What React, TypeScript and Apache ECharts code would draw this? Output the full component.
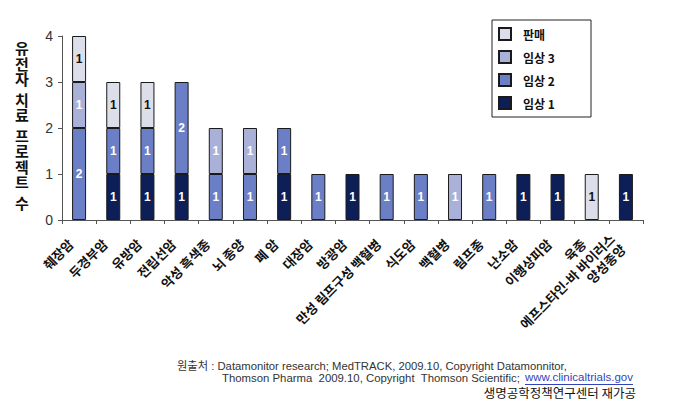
import React, { useEffect, useRef } from "react";
import * as echarts from "echarts";

const categories = [
  "췌장암", "두경부암", "유방암", "전립선암", "악성 흑색종", "뇌 종양", "폐 암",
  "대장암", "방광암", "만성 림프구성 백혈병", "식도암", "백혈병", "림프종",
  "난소암", "이행상피암", "육종", "에프스타인-바 바이러스\n양성종양",
];
const phase1 = [0, 1, 1, 1, 0, 0, 1, 0, 1, 0, 0, 0, 0, 1, 1, 0, 1];
const phase2 = [2, 1, 1, 2, 1, 1, 1, 1, 0, 1, 1, 0, 1, 0, 0, 0, 0];
const phase3 = [1, 0, 0, 0, 1, 1, 0, 0, 0, 0, 0, 1, 0, 0, 0, 0, 0];
const market = [1, 1, 1, 0, 0, 0, 0, 0, 0, 0, 0, 0, 0, 0, 0, 1, 0];
const yTicks = [0, 1, 2, 3, 4];
const yTitleWords = ["유전자", "치료", "프로젝트", "수"];
const sourceLine1 = "원출처 : Datamonitor research; MedTRACK, 2009.10, Copyright Datamonnitor,";
const sourceLine2 = "Thomson Pharma  2009.10, Copyright  Thomson Scientific;";
const sourceLink = "www.clinicaltrials.gov";
const sourceLine3 = "생명공학정책연구센터 재가공";

const KR = "'Noto Sans CJK KR', 'Noto Sans', sans-serif";
const LAT = "'Liberation Sans', Arial, 'Noto Sans CJK KR', sans-serif";

function measure(text: string, font: string): number {
  const c = document.createElement("canvas").getContext("2d");
  if (!c) return text.length * 5;
  c.font = font;
  return c.measureText(text).width;
}

export default function App() {
  const ref = useRef<HTMLDivElement>(null);
  useEffect(() => {
    if (!ref.current) return;
    const chart = echarts.init(ref.current, undefined, { renderer: "svg" });
    const mk = (name: string, data: number[], color: string, labelColor: string) => ({
      name,
      type: "bar",
      stack: "total",
      barWidth: 14,
      data: data.map((v) => (v === 0 ? null : v)),
      itemStyle: { color, borderColor: "#1a1a1a", borderWidth: 1 },
      label: {
        show: true,
        position: "inside",
        color: labelColor,
        fontWeight: "bold",
        fontSize: 12,
        fontFamily: "'Liberation Sans', Arial, sans-serif",
      },
      emphasis: { disabled: true },
    });

    const titleLines: string[] = [];
    yTitleWords.forEach((w, wi) => {
      if (wi > 0) titleLines.push("{g|\u00a0}");
      for (const ch of w) titleLines.push(ch);
    });

    const linkFont = `11.5px ${LAT}`;
    const linkW = measure(sourceLink, linkFont);
    const linkRight = 633;
    const linkLeft = linkRight - linkW;

    // fit source lines to the reference's widths
    const l1w = measure(sourceLine1, `11px ${LAT}`);
    const l1size = (11 * (567 - 177)) / l1w;
    const l2w = measure(sourceLine2, `11px ${LAT}`);
    const l2size = (11 * (linkLeft - 5 - 222)) / l2w;

    chart.setOption({
      animation: false,
      grid: { left: 62, top: 36, width: 581, height: 184, containLabel: false },
      legend: {
        orient: "vertical",
        left: 492,
        top: 21,
        padding: [6, 6, 6, 6],
        itemWidth: 12,
        itemHeight: 12,
        itemGap: 9,
        icon: "rect",
        data: ["판매", "임상 3", "임상 2", "임상 1"],
        textStyle: { fontFamily: KR, fontWeight: "bold", fontSize: 12, color: "#111", padding: [0, 0, 0, 7] },
        selectedMode: false,
      },
      xAxis: {
        type: "category",
        data: categories,
        axisLine: { lineStyle: { color: "#555", width: 1 } },
        axisTick: { show: true, interval: 0, length: 4, lineStyle: { color: "#555" } },
        axisLabel: {
          interval: 0,
          rotate: 45,
          margin: 13,
          padding: [0, 12, 0, 0],
          fontFamily: KR,
          fontWeight: "bold",
          fontSize: 13,
          color: "#111",
          lineHeight: 15,
        },
      },
      yAxis: {
        type: "value",
        min: 0,
        max: 4,
        interval: 1,
        splitLine: { show: false },
        axisLine: { show: true, lineStyle: { color: "#555" } },
        axisTick: { show: true, length: 4, lineStyle: { color: "#555" } },
        axisLabel: {
          fontFamily: "'Liberation Sans', Arial, sans-serif",
          fontSize: 14,
          color: "#333",
          margin: 9,
          formatter: (v: number) => (yTicks.includes(v) ? String(v) : ""),
        },
      },
      series: [
        mk("임상 1", phase1, "#0d1f56", "#ffffff"),
        mk("임상 2", phase2, "#6b7fc6", "#ffffff"),
        mk("임상 3", phase3, "#a9b1d8", "#ffffff"),
        mk("판매", market, "#dcdfe9", "#111111"),
      ],
      graphic: [
        {
          type: "rect",
          shape: { x: 492, y: 20, width: 99, height: 97 },
          style: { fill: "none", stroke: "#222", lineWidth: 1 },
          z: 10,
        },
        {
          type: "text",
          left: 15,
          top: 40,
          style: {
            text: titleLines.join("\n"),
            font: `bold 15px ${KR}`,
            fill: "#111",
            lineHeight: 15.5,
            rich: { g: { lineHeight: 5, fontSize: 4 } },
          },
        },
        {
          type: "text",
          left: 177,
          top: 360,
          style: { text: sourceLine1, font: `${l1size.toFixed(2)}px ${LAT}`, fill: "#333" },
        },
        {
          type: "text",
          left: 222,
          top: 372,
          style: { text: sourceLine2, font: `${l2size.toFixed(2)}px ${LAT}`, fill: "#333" },
        },
        {
          type: "text",
          right: 694 - linkRight,
          top: 371,
          style: { text: sourceLink, font: linkFont, fill: "#3344bb" },
        },
        {
          type: "line",
          shape: { x1: linkLeft, y1: 384.5, x2: linkRight, y2: 384.5 },
          style: { stroke: "#3344bb", lineWidth: 1 },
        },
        {
          type: "text",
          right: 694 - 636,
          top: 386,
          style: { text: sourceLine3, font: `12.5px ${KR}`, fill: "#111" },
        },
      ],
    });
    return () => chart.dispose();
  }, []);
  return <div ref={ref} style={{ width: 694, height: 417, position: "absolute", left: 0, top: 0 }} />;
}
